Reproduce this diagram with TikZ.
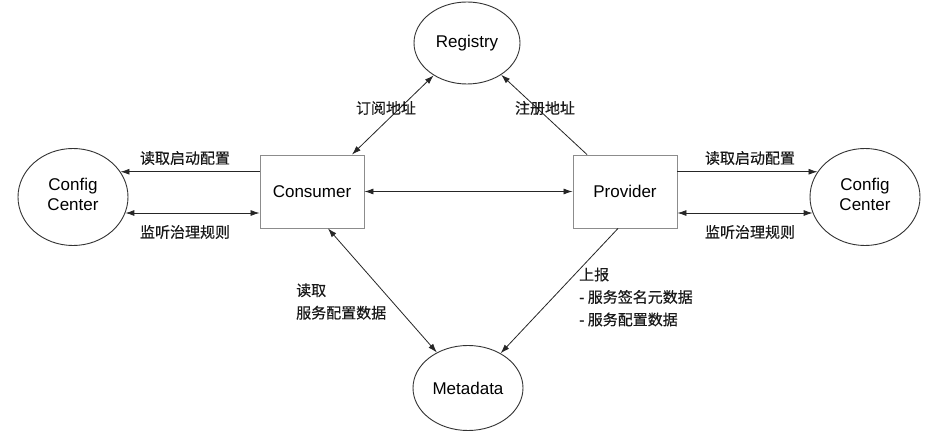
\documentclass[tikz,border=0pt]{standalone}
\usepackage{fontspec}
\setmainfont{Liberation Sans}
\newfontfamily\cjk[FakeBold=0.4]{Noto Sans CJK SC}
\usetikzlibrary{shapes.geometric,arrows.meta}
\begin{document}
\begin{tikzpicture}[x=1pt,y=-1pt,
  ell/.style={ellipse,draw=black!80,line width=0.9pt,inner sep=0pt,align=center,
    font=\fontsize{17}{20}\selectfont},
  box/.style={rectangle,draw=black!45,line width=0.9pt,minimum width=104,minimum height=73,inner sep=0pt,
    font=\fontsize{17}{20}\selectfont},
  conn/.style={line width=0.8pt,black!85,-{Latex[length=9pt,width=6pt]}},
  bconn/.style={line width=0.8pt,black!85,{Latex[length=9pt,width=6pt]}-{Latex[length=9pt,width=6pt]}},
  lbl/.style={font=\cjk\fontsize{15}{22.5}\selectfont,text=black!90,inner sep=0pt}]
\useasboundingbox[fill=white] (0,0) rectangle (951,443);
\node[ell,minimum width=106,minimum height=82] (reg) at (467,43) {Registry};
\node[ell,minimum width=110,minimum height=97] (ccl) at (73,197) {\raisebox{5pt}{\begin{tabular}{@{}c@{}}Config\\Center\end{tabular}}};
\node[ell,minimum width=110,minimum height=97] (ccr) at (865,197) {\raisebox{5pt}{\begin{tabular}{@{}c@{}}Config\\Center\end{tabular}}};
\node[ell,minimum width=110,minimum height=85] (meta) at (468,388) {Metadata};
\node[box] (cons) at (312,191.5) {Consumer};
\node[box] (prov) at (625,191.5) {Provider};
% left
\draw[conn] (cons.west |- ccl.28) -- (ccl.28);
\draw[bconn] (cons.west |- ccl.-17) -- (ccl.-17);
% right
\draw[conn] (prov.east |- ccr.152) -- (ccr.152);
\draw[bconn] (prov.east |- ccr.197) -- (ccr.197);
% middle
\draw[bconn] (cons) -- (prov);
\draw[bconn] ([xshift=40]cons.north) -- (reg);
\draw[conn] ([xshift=-38]prov.north) -- (reg);
\draw[bconn] ([xshift=16]cons.south) -- (meta);
\draw[conn] ([xshift=-7]prov.south) -- (meta);
% labels
\node[lbl] (l1) at (185,158) {读取启动配置};
\node[lbl] (l2) at (185,232) {监听治理规则};
\node[lbl] (l3) at (750,158) {读取启动配置};
\node[lbl] (l4) at (750,232) {监听治理规则};
\node[lbl] (l5) at (386,108) {订阅地址};
\node[lbl] (l6) at (545,108) {注册地址};
\node[lbl,anchor=west,align=left] (l7) at (296,301.5) {读取\\服务配置数据};
\node[lbl,anchor=west,align=left] (l8) at (579,297) {上报\\- 服务签名元数据\\- 服务配置数据};
\end{tikzpicture}
\end{document}
